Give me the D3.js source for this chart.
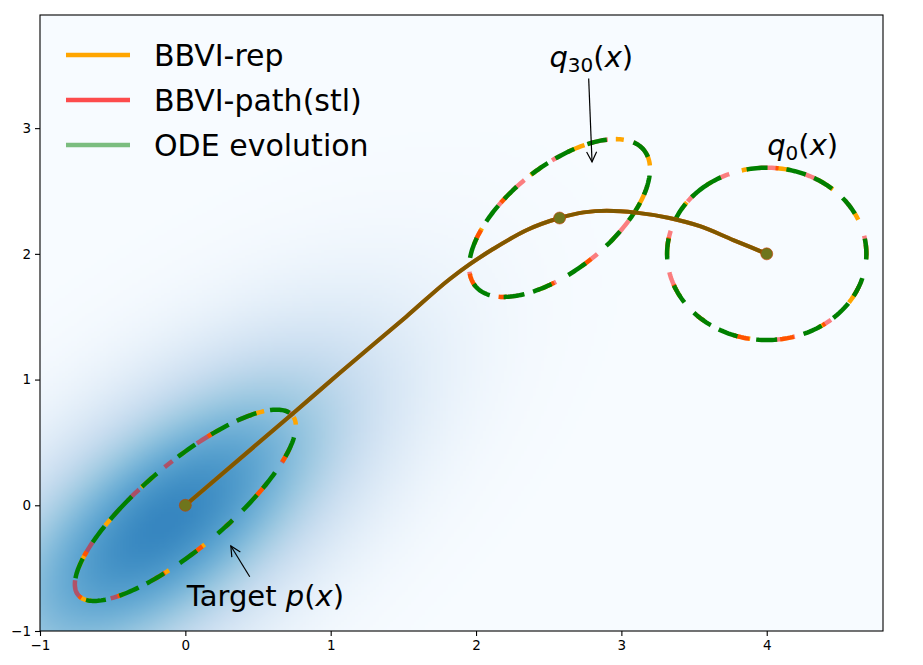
<!DOCTYPE html>
<html>
<head>
<meta charset="utf-8">
<script src="https://cdn.jsdelivr.net/npm/d3@7"></script>
<style>
  body { margin: 0; background: #fff; }
  svg { display: block; font-family: "DejaVu Sans", sans-serif; }
</style>
</head>
<body>
<div id="visual"></div>
<script>
// axis ticks
const xTicks = [-1, 0, 1, 2, 3, 4];
const yTicks = [-1, 0, 1, 2, 3];

// mean trajectory, from target back to q0
const trajX = [0, 0.74, 1.06, 1.52, 1.82, 1.96, 2.12, 2.35, 2.575, 2.74, 2.9, 3.1, 3.33, 3.54, 3.77, 4];
const trajY = [0, 0.73, 1.05, 1.50, 1.80, 1.92, 2.04, 2.19, 2.285, 2.33, 2.342, 2.328, 2.285, 2.22, 2.11, 2];

// markers at q0, q30 and target mean
const dotX = [4, 2.575, 0];
const dotY = [2, 2.285, 0];

// contour ellipses: centre and scaled covariance (xx, xy, yy)
const ellipseCx = [4, 2.575, 0];
const ellipseCy = [2, 2.285, 0];
const ellipseSxx = [0.47, 0.387, 0.578];
const ellipseSxy = [0, 0.242, 0.478];
const ellipseSyy = [0.47, 0.394, 0.579];

// target density shown in the background
const targetMean = [-0.15, -0.15];
const targetSdMajor = 1.2;
const targetSdMinor = 0.56;
const targetPeak = 0.67;

// legend
const legendLabels = ["BBVI-rep", "BBVI-path(stl)", "ODE evolution"];
const legendColors = ["#FFA500", "rgba(255,0,0,0.7)", "rgba(0,128,0,0.5)"];

const W = 923, H = 665;
const margin = { top: 15, right: 40, bottom: 34, left: 40 };

const x = d3.scaleLinear().domain([-1, 4.8]).range([margin.left, W - margin.right]);
const y = d3.scaleLinear().domain([-1, 3.9]).range([H - margin.bottom, margin.top]);

const svg = d3.select("#visual").append("svg")
    .attr("width", W).attr("height", H);

svg.append("defs").append("marker")
    .attr("id", "arr")
    .attr("viewBox", "-12 -7 14 14")
    .attr("markerWidth", 14).attr("markerHeight", 14)
    .attr("markerUnits", "userSpaceOnUse")
    .attr("refX", 0).attr("refY", 0)
    .attr("orient", "auto")
    .append("path")
    .attr("d", "M-10,-5 L0,0 L-10,5")
    .attr("fill", "none").attr("stroke", "#000").attr("stroke-width", 1.2);

svg.append("clipPath").attr("id", "clip").append("rect")
    .attr("x", x(-1)).attr("y", y(3.9))
    .attr("width", x(4.8) - x(-1)).attr("height", y(-1) - y(3.9));

// background density image
const nx = 290, ny = 245;
const cnv = document.createElement("canvas");
cnv.width = nx; cnv.height = ny;
const ctx = cnv.getContext("2d");
const img = ctx.createImageData(nx, ny);
const gx = d3.scaleLinear().domain([0, nx - 1]).range(x.domain());
const gy = d3.scaleLinear().domain([0, ny - 1]).range(y.domain().slice().reverse());
const blues = d3.scaleSequential(d3.interpolateBlues).domain([0, 1]);
for (let j = 0; j < ny; j++) {
    for (let i = 0; i < nx; i++) {
        const dx = gx(i) - targetMean[0], dy = gy(j) - targetMean[1];
        const u = (dx + dy) / Math.SQRT2, v = (dx - dy) / Math.SQRT2;
        const val = targetPeak * Math.exp(-0.5 * (u * u / (targetSdMajor * targetSdMajor) + v * v / (targetSdMinor * targetSdMinor)));
        const c = d3.rgb(blues(val));
        const k = (j * nx + i) * 4;
        img.data[k] = c.r; img.data[k + 1] = c.g; img.data[k + 2] = c.b; img.data[k + 3] = 255;
    }
}
ctx.putImageData(img, 0, 0);

const plot = svg.append("g").attr("clip-path", "url(#clip)");
plot.append("image")
    .attr("href", cnv.toDataURL())
    .attr("x", x(-1)).attr("y", y(3.9))
    .attr("width", x(4.8) - x(-1)).attr("height", y(-1) - y(3.9))
    .attr("preserveAspectRatio", "none");

// ellipses, one per method, each with its own broken dash rhythm
function ellipsePoints(k) {
    const a = ellipseSxx[k], b = ellipseSxy[k], c = ellipseSyy[k];
    const l11 = Math.sqrt(a), l21 = b / l11, l22 = Math.sqrt(c - l21 * l21);
    return d3.range(0, 241).map(s => {
        const t = s / 240 * 2 * Math.PI + 2.2;
        return [ellipseCx[k] + l11 * Math.cos(t), ellipseCy[k] + l21 * Math.cos(t) + l22 * Math.sin(t)];
    });
}
const eLine = d3.line().x(d => x(d[0])).y(d => y(d[1]));
const eStyles = [
    { color: "#FFA500", dash: "14,26,8,32,18,30", offset: [12, 40, 25] },
    { color: "rgba(255,0,0,0.5)", dash: "20,30,10,34,16,26", offset: [33, 8, 50] },
    { color: "#008000", dash: "21,9,20,19,21,27,20,14", offset: [0, 18, 6] }
];
eStyles.forEach(st => {
    ellipseCx.forEach((_, k) => {
        plot.append("path")
            .datum(ellipsePoints(k))
            .attr("d", eLine)
            .attr("fill", "none")
            .attr("stroke", st.color)
            .attr("stroke-width", 4.5)
            .attr("stroke-dasharray", st.dash)
            .attr("stroke-dashoffset", st.offset[k]);
    });
});

// trajectories
const traj = trajX.map((v, i) => [v, trajY[i]]);
const tLine = d3.line().x(d => x(d[0])).y(d => y(d[1])).curve(d3.curveMonotoneX);
["#FFA500", "rgba(255,0,0,0.7)", "rgba(0,128,0,0.5)"].forEach(col => {
    plot.append("path")
        .datum(traj)
        .attr("d", tLine)
        .attr("fill", "none")
        .attr("stroke", col)
        .attr("stroke-width", 4);
});

plot.selectAll("circle.dot")
    .data(dotX.map((v, i) => [v, dotY[i]]))
    .enter().append("circle")
    .attr("class", "dot")
    .attr("cx", d => x(d[0]))
    .attr("cy", d => y(d[1]))
    .attr("r", 6)
    .attr("fill", "#6f751c")
    .attr("stroke", "rgba(200,60,0,0.6)")
    .attr("stroke-width", 1);

// frame and axes
svg.append("rect")
    .attr("x", x(-1)).attr("y", y(3.9))
    .attr("width", x(4.8) - x(-1)).attr("height", y(-1) - y(3.9))
    .attr("fill", "none").attr("stroke", "#000").attr("stroke-width", 1.1);

const xAxis = svg.append("g")
    .attr("transform", "translate(0," + y(-1) + ")")
    .call(d3.axisBottom(x).tickValues(xTicks).tickFormat(d3.format("d")).tickSize(5).tickPadding(4));
const yAxis = svg.append("g")
    .attr("transform", "translate(" + x(-1) + ",0)")
    .call(d3.axisLeft(y).tickValues(yTicks).tickFormat(d3.format("d")).tickSize(5).tickPadding(4));
[xAxis, yAxis].forEach(g => {
    g.select(".domain").remove();
    g.selectAll("text").attr("font-size", 13.5).attr("font-family", "DejaVu Sans").attr("fill", "#000");
    g.selectAll("line").attr("stroke", "#000").attr("stroke-width", 1.1);
});

// legend
const legend = svg.append("g");
legendLabels.forEach((lab, i) => {
    const yy = 55 + i * 45;
    legend.append("line")
        .attr("x1", 66).attr("x2", 130).attr("y1", yy).attr("y2", yy)
        .attr("stroke", legendColors[i]).attr("stroke-width", 4.5);
    legend.append("text")
        .attr("x", 154).attr("y", yy + 11)
        .attr("font-size", 30)
        .attr("fill", "#000")
        .text(lab);
});

// annotations
function mathLabel(xv, yv, base, sub) {
    const t = svg.append("text")
        .attr("x", x(xv)).attr("y", y(yv))
        .attr("font-size", 29).attr("fill", "#000");
    if (base === "Target") {
        t.append("tspan").text("Target ");
        t.append("tspan").attr("font-style", "italic").text("p");
        t.append("tspan").text("(");
    } else {
        t.append("tspan").attr("font-style", "italic").text("q");
        t.append("tspan").attr("font-size", 20).attr("dy", 5).text(sub);
        t.append("tspan").attr("dy", -5).text("(");
    }
    t.append("tspan").attr("font-style", "italic").text("x");
    t.append("tspan").text(")");
}
mathLabel(2.505, 3.487, "q", "30");
mathLabel(4.003, 2.785, "q", "0");
mathLabel(0.01, -0.801, "Target", "");

svg.append("line")
    .attr("x1", x(2.775)).attr("y1", y(3.395))
    .attr("x2", x(2.798)).attr("y2", y(2.732))
    .attr("stroke", "#000").attr("stroke-width", 1.2)
    .attr("marker-end", "url(#arr)");
svg.append("line")
    .attr("x1", x(0.443)).attr("y1", y(-0.568))
    .attr("x2", x(0.313)).attr("y2", y(-0.324))
    .attr("stroke", "#000").attr("stroke-width", 1.2)
    .attr("marker-end", "url(#arr)");
</script>
</body>
</html>
